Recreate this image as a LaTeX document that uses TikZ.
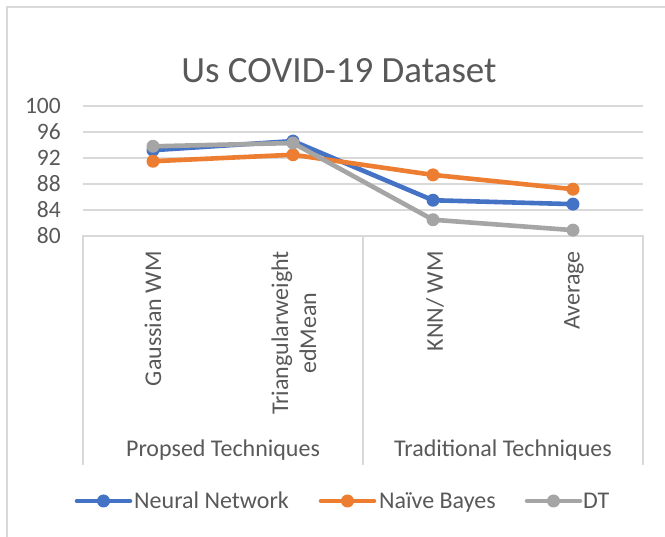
\documentclass[tikz,border=0pt]{standalone}
\usepackage{fontspec}
\setmainfont{Carlito}
\definecolor{txt}{HTML}{595959}
\definecolor{grid}{HTML}{D9D9D9}
\definecolor{nnblue}{HTML}{4472C4}
\definecolor{nborange}{HTML}{ED7D31}
\definecolor{dtgray}{HTML}{A5A5A5}
\tikzset{
  gridline/.style={draw=grid, line width=1.3pt},
  axisline/.style={draw=grid, line width=1.3pt},
  ticklabel/.style={anchor=east, text=txt, font=\fontsize{23.5}{28}\selectfont, inner sep=0pt},
  catlabel/.style={rotate=90, anchor=east, align=center, text=txt, font=\fontsize{24}{28}\selectfont, inner sep=0pt},
  grouplabel/.style={anchor=base, text=txt, font=\fontsize{24}{28.8}\selectfont, inner sep=0pt},
  legendlabel/.style={anchor=base west, text=txt, font=\fontsize{24}{28.8}\selectfont, inner sep=0pt},
  series/.style={line width=4.6pt, line cap=round, line join=round, draw=#1},
  dot/.style={circle, fill=#1, minimum size=13pt, inner sep=0pt},
}
\begin{document}
\begin{tikzpicture}[x=1pt, y=-1pt]
\useasboundingbox (0,0) rectangle (665,537);
\fill[white] (0,0) rectangle (665,537);
% chart frame
\draw[grid, line width=1.3pt] (7,537.5) -- (7,7) -- (680,7);

% title
\node[anchor=base, text=txt, font=\fontsize{37}{44}\selectfont, inner sep=0pt] (title) at (339,83) {Us COVID-19 Dataset};

% value axis: gridlines every 4 units, 80 at y=236, 26 units of height per step
\foreach \v/\lab in {1/84,2/88,3/92,4/96,5/100} {
  \draw[gridline] (83,236-26*\v) -- (643,236-26*\v);
}
\foreach \v/\lab in {0/80,1/84,2/88,3/92,4/96,5/100} {
  \node[ticklabel] (tick\lab) at (61,236-26*\v) {\lab};
}

% category axis box
\draw[axisline] (83,465) -- (83,236) -- (643,236) -- (643,465);
\draw[axisline] (363,236) -- (363,465);

% category labels
\node[catlabel] (cat1) at (153,251) {Gaussian WM};
\node[catlabel] (cat2) at (294,251) {Triangularweight\\edMean};
\node[catlabel] (cat3) at (435,251) {KNN/ WM};
\node[catlabel] (cat4) at (574,251) {Average};

% group labels
\node[grouplabel] (grp1) at (223,457) {Propsed Techniques};
\node[grouplabel] (grp2) at (503,457) {Traditional Techniques};

% data points (y = 236 - 6.5*(value-80))
\foreach \s/\a/\b/\c/\d in {nn/93.2/94.6/85.5/84.9, nb/91.5/92.5/89.4/87.2, dt/93.8/94.3/82.5/80.9} {
  \coordinate (\s1) at (153,236-6.5*\a+520);
  \coordinate (\s2) at (293,236-6.5*\b+520);
  \coordinate (\s3) at (433,236-6.5*\c+520);
  \coordinate (\s4) at (573,236-6.5*\d+520);
}

% series, drawn in legend order
\foreach \s/\col in {nn/nnblue, nb/nborange, dt/dtgray} {
  \draw[series=\col] (\s1) -- (\s2) -- (\s3) -- (\s4);
  \foreach \i in {1,2,3,4} { \node[dot=\col] (\s m\i) at (\s\i) {}; }
}

% legend
\coordinate (lgA1) at (77,501); \coordinate (lgA2) at (130,501);
\coordinate (lgB1) at (321,501); \coordinate (lgB2) at (374,501);
\coordinate (lgC1) at (527,501); \coordinate (lgC2) at (580,501);
\draw[series=nnblue] (lgA1) -- (lgA2);
\node[dot=nnblue] (lgAm) at (103.5,501) {};
\node[legendlabel] (lgAt) at (134,509) {Neural Network};
\draw[series=nborange] (lgB1) -- (lgB2);
\node[dot=nborange] (lgBm) at (347.5,501) {};
\node[legendlabel] (lgBt) at (379,509) {Naïve Bayes};
\draw[series=dtgray] (lgC1) -- (lgC2);
\node[dot=dtgray] (lgCm) at (553.5,501) {};
\node[legendlabel] (lgCt) at (583,509) {DT};
\end{tikzpicture}
\end{document}
